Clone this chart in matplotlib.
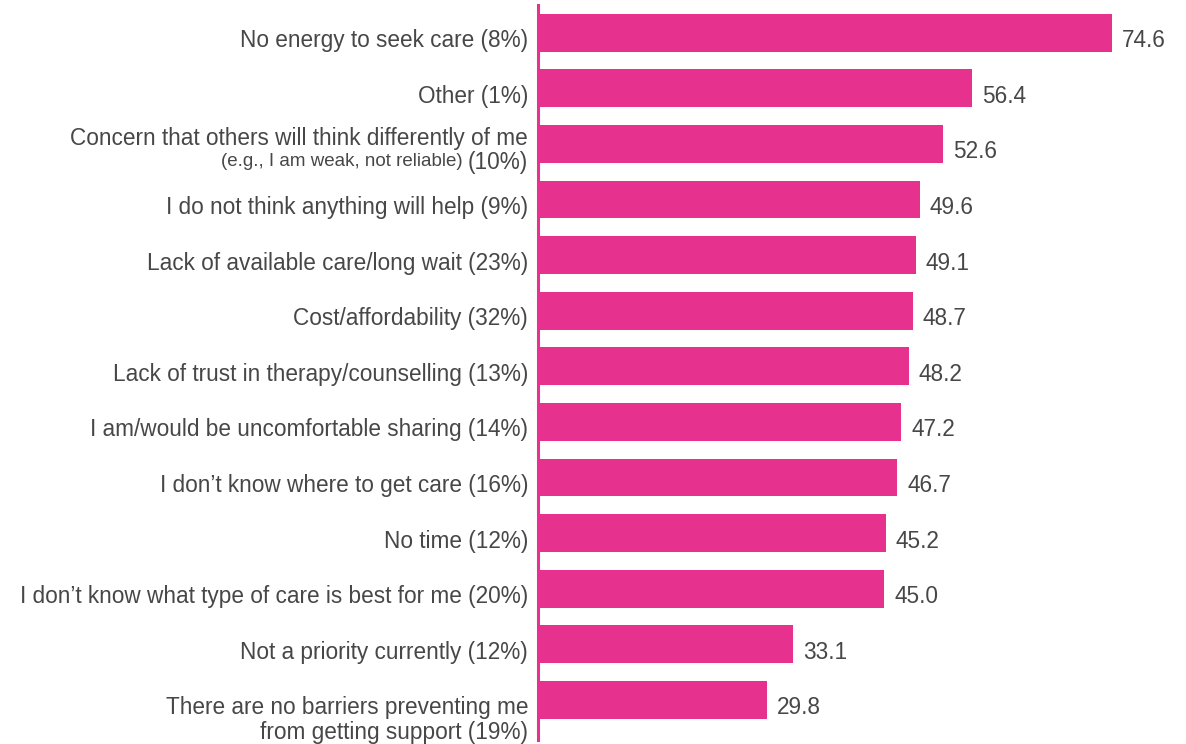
import matplotlib
matplotlib.use("Agg")
import matplotlib.pyplot as plt
from matplotlib.transforms import blended_transform_factory

# data
etiquetas = [
    "No energy to seek care (8%)",
    "Other (1%)",
    "Concern that others will think differently of me",
    "I do not think anything will help (9%)",
    "Lack of available care/long wait (23%)",
    "Cost/affordability (32%)",
    "Lack of trust in therapy/counselling (13%)",
    "I am/would be uncomfortable sharing (14%)",
    "I don\u2019t know where to get care (16%)",
    "No time (12%)",
    "I don\u2019t know what type of care is best for me (20%)",
    "Not a priority currently (12%)",
    "There are no barriers preventing me\nfrom getting support (19%)",
]
valores = [74.6, 56.4, 52.6, 49.6, 49.1, 48.7, 48.2, 47.2, 46.7, 45.2, 45.0, 33.1, 29.8]
nota_pequena = "(e.g., I am weak, not reliable) "
nota_pct = "(10%)"

rosa = "#E6318F"
gris = "#474747"
plt.rcParams['font.family'] = ['Liberation Sans', 'DejaVu Sans']

fig = plt.figure(figsize=(11.86, 7.44), dpi=100)
ax = fig.add_axes([538 / 1186, 1 - 740 / 744, 1 - 538 / 1186, 735 / 744])

pos = list(range(len(valores)))
ax.barh(pos, valores, height=0.68, color=rosa, edgecolor="none")
ax.set_xlim(0, (1186 - 538) / 7.694)
ax.set_ylim(12.72, -0.5)

for s in ["top", "right", "bottom"]:
    ax.spines[s].set_visible(False)
ax.spines["left"].set_color(rosa)
ax.spines["left"].set_linewidth(2.2)
ax.set_xticks([])
ax.set_yticks([])

trans = blended_transform_factory(ax.transAxes, ax.transData)
# pixels -> points (dpi 100)
px = 72 / 100
tam = 16.3

for i, (txt, v) in enumerate(zip(etiquetas, valores)):
    dy = -8
    if i == len(etiquetas) - 1:
        dy = -20
    if i == 2:
        dy = 5
    ax.annotate(txt, xy=(0, i), xycoords=trans, xytext=(-10 * px, dy * px),
                textcoords="offset points", ha="right", va="center",
                fontsize=tam, color=gris, linespacing=1.15)
    ax.annotate(f"{v:.1f}", xy=(v, i), xytext=(10 * px, -8 * px),
                textcoords="offset points", ha="left", va="center",
                fontsize=tam, color=gris)

# second line of the "Concern" label, mixed sizes
t = ax.annotate(nota_pct, xy=(0, 2), xycoords=trans, xytext=(-10 * px, -19 * px),
                textcoords="offset points", ha="right", va="center",
                fontsize=tam, color=gris)
ax.annotate(nota_pequena, xy=(0, 0.2), xycoords=t, ha="right", va="bottom",
            fontsize=13.5, color=gris)

fig.savefig("out.png", dpi=100)
